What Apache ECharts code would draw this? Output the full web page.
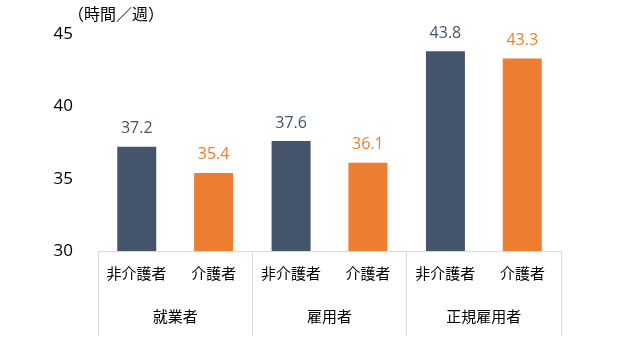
<!DOCTYPE html>
<html><head><meta charset="utf-8">
<script src="https://cdn.jsdelivr.net/npm/echarts@6/dist/echarts.min.js"></script>
<style>html,body{margin:0;padding:0;background:#fff}#c{width:640px;height:350px}</style>
</head><body><div id="c"></div>
<script>
var groups = ['就業者', '雇用者', '正規雇用者'];
var subLabels = ['非介護者', '介護者', '非介護者', '介護者', '非介護者', '介護者'];
var nonCarer = [37.2, 37.6, 43.8];
var carer = [35.4, 36.1, 43.3];
var yTicks = [30, 35, 40, 45];
var unitLabel = '（時間／週）';

var FONT = '"Open Sans", "Noto Sans CJK JP", sans-serif';
var chart = echarts.init(document.getElementById('c'));
chart.setOption({
  animation: false,
  textStyle: { fontFamily: FONT },
  grid: { left: 98, right: 79, top: 34, bottom: 99 },
  graphic: [{ type: 'text', left: 68, top: 7, style: { text: unitLabel, font: '16px ' + FONT, fill: '#000' } }],
  xAxis: [
    { type: 'category', data: groups, position: 'bottom',
      axisLine: { show: true, lineStyle: { color: '#d9d9d9' } },
      axisTick: { show: true, length: 85, lineStyle: { color: '#d9d9d9' } },
      axisLabel: { margin: 59, fontSize: 15, color: '#000', fontFamily: FONT } },
    { type: 'category', data: subLabels, position: 'bottom',
      axisLine: { show: false }, axisTick: { show: false },
      axisLabel: { margin: 16, fontSize: 15, color: '#000', interval: 0, fontFamily: FONT } }
  ],
  yAxis: { type: 'value', min: yTicks[0], max: yTicks[yTicks.length - 1], interval: 5,
    axisLine: { show: false }, axisTick: { show: false }, splitLine: { show: false },
    axisLabel: { fontSize: 17, color: '#000', margin: 25, fontFamily: FONT, padding: [0, 0, 5, 0] } },
  series: [
    { name: '非介護者', type: 'bar', xAxisIndex: 0, data: nonCarer, barWidth: 39, barGap: '97%',
      itemStyle: { color: '#44546A' },
      label: { show: true, position: 'top', distance: 10, fontSize: 16, color: '#44546A', fontFamily: FONT, formatter: function (p) { return p.value.toFixed(1); } } },
    { name: '介護者', type: 'bar', xAxisIndex: 0, data: carer, barWidth: 39, barGap: '97%',
      itemStyle: { color: '#ED7D31' },
      label: { show: true, position: 'top', distance: 10, fontSize: 16, color: '#ED7D31', fontFamily: FONT, formatter: function (p) { return p.value.toFixed(1); } } }
  ]
});
</script></body></html>
